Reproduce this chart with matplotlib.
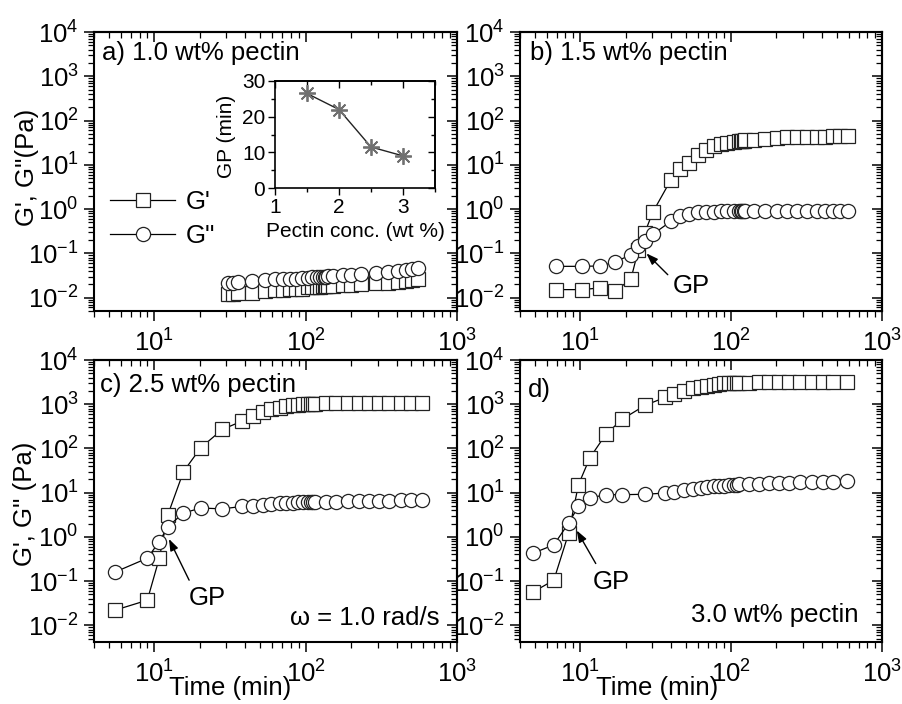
import numpy as np
import matplotlib
matplotlib.use("Agg")
import matplotlib.pyplot as plt
from matplotlib.ticker import LogLocator, NullFormatter, MultipleLocator

plt.rcParams['font.family'] = ['Liberation Sans', 'DejaVu Sans']
plt.rcParams['mathtext.fontset'] = 'custom'
plt.rcParams['mathtext.rm'] = 'Liberation Sans'
plt.rcParams['mathtext.it'] = 'Liberation Sans:italic'
plt.rcParams['mathtext.default'] = 'regular'

# ---------------- data ----------------
# a) 1.0 wt% pectin
t_a = [30.8, 33.3, 35.9, 44, 54, 62.5, 71, 78.5, 87, 95, 103, 110, 118, 125,
       130, 134, 137, 140, 151, 176, 200, 232, 292, 348, 405, 460, 508, 555]
Gp_a = [0.012, 0.012, 0.013, 0.013, 0.014, 0.015, 0.015, 0.016, 0.016, 0.016,
        0.017, 0.017, 0.017, 0.017, 0.018, 0.018, 0.018, 0.018, 0.018, 0.019,
        0.019, 0.020, 0.021, 0.022, 0.023, 0.024, 0.025, 0.027]
Gpp_a = [0.021, 0.022, 0.023, 0.024, 0.025, 0.026, 0.026, 0.027, 0.027, 0.028,
         0.028, 0.029, 0.029, 0.030, 0.030, 0.030, 0.030, 0.031, 0.031, 0.032,
         0.033, 0.034, 0.036, 0.038, 0.040, 0.042, 0.044, 0.047]

# b) 1.5 wt% pectin
t_b = [6.9, 10.3, 13.5, 17.0, 21.7, 24.3, 26.8, 30.3, 40, 46, 52.5, 60, 68, 77,
       85.5, 94.5, 105, 113, 116, 119, 121, 123, 142, 169, 202, 235, 273, 317,
       370, 420, 476, 528, 595]
Gp_b = [0.0152, 0.0152, 0.0166, 0.0139, 0.026, 0.12, 0.29, 0.85, 4.6, 7.9,
        11.2, 17, 22, 26.5, 29, 31.5, 33, 34.5, 34.8, 35, 35.2, 35.5, 36.5, 39,
        40.5, 41.5, 42, 42.5, 43, 43.5, 44, 44, 44.5]
Gpp_b = [0.051, 0.051, 0.052, 0.063, 0.094, 0.145, 0.19, 0.27, 0.53, 0.69,
         0.79, 0.85, 0.87, 0.88, 0.89, 0.89, 0.90, 0.90, 0.90, 0.90, 0.90, 0.90,
         0.90, 0.90, 0.90, 0.90, 0.90, 0.90, 0.90, 0.90, 0.90, 0.90, 0.90]

# c) 2.5 wt% pectin
t_c = [5.5, 9.0, 10.8, 12.3, 15.6, 20.3, 28.2, 38.2, 45, 52.4, 59.5, 67.5, 74.6,
       82, 89, 96, 103, 108, 112, 116, 137, 159, 190, 226, 264, 307, 357, 427,
       496, 591]
Gp_c = [0.022, 0.037, 0.33, 3.16, 30, 104, 270, 417, 540, 668, 770, 840, 914,
        950, 980, 1000, 1010, 1020, 1025, 1030, 1040, 1040, 1050, 1050, 1050,
        1050, 1050, 1050, 1050, 1050]
Gpp_c = [0.16, 0.33, 0.78, 1.71, 3.46, 4.5, 4.3, 4.9, 5.1, 5.3, 5.5, 5.7, 5.8,
         5.9, 6.0, 6.0, 6.1, 6.1, 6.1, 6.2, 6.3, 6.3, 6.4, 6.5, 6.5, 6.6, 6.6,
         6.7, 6.8, 6.9]

# d) 3.0 wt% pectin
t_d = [4.9, 6.7, 8.4, 9.75, 11.6, 14.8, 19, 27, 36.5, 42, 49, 55.6, 63, 69.8,
       77.3, 83.4, 90, 97, 105, 110, 113, 131, 153, 178, 207, 241, 288, 343,
       409, 476, 582]
Gp_d = [0.057, 0.105, 1.21, 15.1, 61, 208, 457, 948, 1420, 1690, 2000, 2280,
        2500, 2650, 2780, 2880, 2950, 3000, 3040, 3060, 3070, 3090, 3110, 3120,
        3140, 3150, 3160, 3170, 3180, 3190, 3200]
Gpp_d = [0.43, 0.66, 2.05, 4.9, 7.6, 9.0, 9.0, 9.2, 9.8, 10.5, 11.2, 12.0, 12.6,
         13.2, 13.9, 14.2, 14.5, 14.8, 15.1, 15.3, 15.5, 15.8, 16.1, 16.4, 16.7,
         16.8, 17.0, 17.2, 17.4, 17.6, 17.9]

# inset: gel point vs pectin concentration
conc = [1.5, 2.0, 2.5, 3.0]
gp_time = [26.5, 22.0, 11.5, 9.0]

panel_labels = ["a) 1.0 wt% pectin", "b) 1.5 wt% pectin", "c) 2.5 wt% pectin", "d)"]

# ---------------- figure ----------------
FS = 18.5
fig = plt.figure(figsize=(9.02, 7.04), dpi=100)

W, H = 902.0, 704.0
def rect(l, r, t, b):
    return [l / W, (H - b) / H, (r - l) / W, (b - t) / H]

ax_a = fig.add_axes(rect(94, 457, 32, 311))
ax_b = fig.add_axes(rect(520, 882, 32, 311))
ax_c = fig.add_axes(rect(94, 457, 360, 642))
ax_d = fig.add_axes(rect(520, 882, 360, 642))

MS = 10.2
MEW = 0.9
SUBS = np.arange(2, 10)


def style_log(ax, ylim):
    ax.set_xscale('log')
    ax.set_yscale('log')
    ax.set_xlim(4, 1000)
    ax.set_ylim(*ylim)
    for s in ax.spines.values():
        s.set_linewidth(1.5)
    ax.xaxis.set_major_locator(LogLocator(10, numticks=50))
    ax.xaxis.set_minor_locator(LogLocator(10, subs=SUBS, numticks=50))
    ax.yaxis.set_major_locator(LogLocator(10, numticks=50))
    ax.yaxis.set_minor_locator(LogLocator(10, subs=SUBS, numticks=50))
    ax.xaxis.set_minor_formatter(NullFormatter())
    ax.yaxis.set_minor_formatter(NullFormatter())
    ax.tick_params(which='both', direction='out', top=False, right=False,
                   labelsize=FS, width=1.1)
    ax.tick_params(axis='x', which='major', length=7, pad=6)
    ax.tick_params(axis='y', which='major', length=7, pad=4)
    ax.tick_params(which='minor', length=4, width=0.9)
    secx = ax.secondary_xaxis('top')
    secx.xaxis.set_major_locator(LogLocator(10, numticks=50))
    secx.xaxis.set_minor_locator(LogLocator(10, subs=SUBS, numticks=50))
    secx.tick_params(which='both', direction='in', labeltop=False, width=1.1)
    secx.tick_params(which='major', length=7)
    secx.tick_params(which='minor', length=4, width=0.9)
    secy = ax.secondary_yaxis('right')
    secy.yaxis.set_major_locator(LogLocator(10, numticks=50))
    secy.yaxis.set_minor_locator(LogLocator(10, subs=SUBS, numticks=50))
    secy.tick_params(which='both', direction='in', labelright=False, width=1.1)
    secy.tick_params(which='major', length=7)
    secy.tick_params(which='minor', length=4, width=0.9)
    for s in list(secx.spines.values()) + list(secy.spines.values()):
        s.set_linewidth(1.5)


def plot_series(ax, t, gp, gpp):
    l1, = ax.plot(t, gp, '-', color='black', lw=0.9, marker='s', ms=MS,
                  mfc='white', mec='#222222', mew=MEW, label="G'")
    l2, = ax.plot(t, gpp, '-', color='black', lw=0.9, marker='o', ms=MS,
                  mfc='white', mec='#222222', mew=MEW, label="G''")
    return l1, l2


def gp_arrow(ax, tip, tail, txt):
    ax.annotate('', xy=tip, xytext=tail,
                arrowprops=dict(arrowstyle='-|>,head_length=0.7,head_width=0.25',
                                color='black', lw=1.0, mutation_scale=10,
                                shrinkA=0, shrinkB=0))
    ax.text(txt[0], txt[1], 'GP', fontsize=FS, ha='center', va='center')


for ax, yl in ((ax_a, (5e-3, 1e4)), (ax_b, (5e-3, 1e4)),
               (ax_c, (4.2e-3, 1e4)), (ax_d, (4.2e-3, 1e4))):
    style_log(ax, yl)

h1, h2 = plot_series(ax_a, t_a, Gp_a, Gpp_a)
plot_series(ax_b, t_b, Gp_b, Gpp_b)
plot_series(ax_c, t_c, Gp_c, Gpp_c)
plot_series(ax_d, t_d, Gp_d, Gpp_d)

# panel labels
ax_a.text(0.022, 0.925, panel_labels[0], transform=ax_a.transAxes, fontsize=FS,
          ha='left', va='center')
ax_b.text(0.028, 0.925, panel_labels[1], transform=ax_b.transAxes, fontsize=FS,
          ha='left', va='center')
ax_c.text(0.017, 0.911, panel_labels[2], transform=ax_c.transAxes, fontsize=FS,
          ha='left', va='center')
ax_d.text(0.022, 0.894, panel_labels[3], transform=ax_d.transAxes, fontsize=FS,
          ha='left', va='center')
ax_c.text(0.953, 0.085, 'ω = 1.0 rad/s', transform=ax_c.transAxes, fontsize=FS,
          ha='right', va='center')
ax_d.text(0.934, 0.096, '3.0 wt% pectin', transform=ax_d.transAxes, fontsize=FS,
          ha='right', va='center')

# GP arrows
gp_arrow(ax_b, (27.5, 0.10), (38.1, 0.033), (54.6, 0.0187))
gp_arrow(ax_c, (12.5, 0.9), (17.0, 0.105), (22.3, 0.042))
gp_arrow(ax_d, (9.5, 1.4), (12.7, 0.25), (16.2, 0.096))

# axis labels
ax_a.text(-0.185, 0.514, "G', G''(Pa)", transform=ax_a.transAxes, fontsize=FS,
          rotation=90, ha='center', va='center')
ax_c.text(-0.19, 0.49, "G', G'' (Pa)", transform=ax_c.transAxes, fontsize=FS,
          rotation=90, ha='center', va='center')
fig.text(230 / W, 3.5 / H, 'Time (min)', fontsize=FS, ha='center', va='bottom')
fig.text(657 / W, 3.5 / H, 'Time (min)', fontsize=FS, ha='center', va='bottom')

# legend in panel a
ax_a.legend(handles=[h1, h2], loc='upper left', bbox_to_anchor=(0.044, 0.432),
            frameon=False, fontsize=FS, handlelength=2.55, handletextpad=0.4,
            labelspacing=0.38, borderpad=0, borderaxespad=0)

# inset
IFS = 15
ins = fig.add_axes(rect(275, 435, 81, 188))
ins.plot(conc, gp_time, '-', color='#222222', lw=1.0, marker=(8, 2, 0), ms=12,
         mec='#707070', mew=1.3)
ins.set_xlim(1, 3.5)
ins.set_ylim(0, 30)
ins.xaxis.set_major_locator(MultipleLocator(1))
ins.xaxis.set_minor_locator(MultipleLocator(0.5))
ins.yaxis.set_major_locator(MultipleLocator(10))
ins.yaxis.set_minor_locator(MultipleLocator(5))
for s in ins.spines.values():
    s.set_linewidth(1.2)
ins.tick_params(which='both', direction='out', top=False, right=False,
                labelsize=IFS, width=1.0, pad=2)
ins.tick_params(which='major', length=5)
ins.tick_params(which='minor', length=3)
isx = ins.secondary_xaxis('top')
isx.xaxis.set_major_locator(MultipleLocator(1))
isx.xaxis.set_minor_locator(MultipleLocator(0.5))
isx.tick_params(which='both', direction='in', labeltop=False, width=1.0)
isx.tick_params(which='major', length=5)
isx.tick_params(which='minor', length=3)
isy = ins.secondary_yaxis('right')
isy.yaxis.set_major_locator(MultipleLocator(10))
isy.yaxis.set_minor_locator(MultipleLocator(5))
isy.tick_params(which='both', direction='in', labelright=False, width=1.0)
isy.tick_params(which='major', length=5)
isy.tick_params(which='minor', length=3)
for s in list(isx.spines.values()) + list(isy.spines.values()):
    s.set_linewidth(1.2)
ins.text(-0.30, 0.48, 'GP (min)', transform=ins.transAxes, fontsize=IFS,
         rotation=90, ha='center', va='center')
ins.text(0.5, -0.41, 'Pectin conc. (wt %)', transform=ins.transAxes, fontsize=IFS,
         ha='center', va='center')

fig.savefig('out.png', dpi=100)
